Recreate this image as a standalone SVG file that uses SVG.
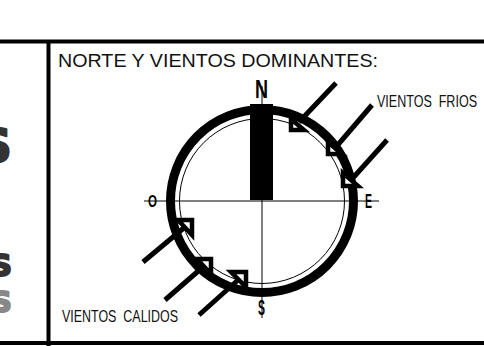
<svg xmlns="http://www.w3.org/2000/svg" width="484" height="346" viewBox="0 0 484 346">
<style>
.frame{stroke:#000;stroke-width:4;fill:none}
.thin{stroke:#000;stroke-width:1;fill:none}
.ring{stroke:#000;stroke-width:9;fill:none}
.shaft{stroke:#000;stroke-width:5;fill:none;stroke-linecap:butt}
.head{stroke:#000;stroke-width:4.5;fill:#fff;stroke-linejoin:miter}
.lbl{font-family:"Liberation Sans",Arial,sans-serif;fill:#111;white-space:pre}
.card{font-family:"Liberation Sans",Arial,sans-serif;font-weight:bold;fill:#000}
.cut{font-family:"DejaVu Sans",sans-serif;font-weight:bold;text-anchor:end;stroke-linejoin:round}
</style>
<rect width="484" height="346" fill="#fff"/>
<g id="frame">
<line class="frame" x1="0" y1="41.5" x2="484" y2="41.5"/>
<line class="frame" x1="48.5" y1="41.5" x2="48.5" y2="346"/>
<line class="frame" x1="0" y1="343" x2="484" y2="343"/>
</g>
<g id="cutoff-text">
<text class="cut" x="12" y="162" font-size="46" fill="#333" stroke="#333" stroke-width="2">S</text>
<text class="cut" x="12" y="276" font-size="31" fill="#333" stroke="#333" stroke-width="2">S</text>
<text class="cut" x="12" y="312" font-size="29" fill="#888" stroke="#888" stroke-width="2">S</text>
</g>
<g id="title"><text class="lbl" x="58" y="66.5" font-size="18" textLength="320" lengthAdjust="spacingAndGlyphs">NORTE Y VIENTOS DOMINANTES:</text></g>
<g id="compass">
<line class="thin" x1="144" y1="201" x2="379" y2="201"/>
<line class="thin" x1="262" y1="86" x2="262" y2="318"/>
<circle class="thin" cx="262" cy="201" r="82.5"/>
<circle class="ring" cx="262" cy="201" r="91.5"/>
<rect x="250" y="104" width="23" height="96" fill="#000"/>
<text class="card" x="255" y="98" font-size="25" textLength="13" lengthAdjust="spacingAndGlyphs">N</text>
<text class="card" x="365" y="208" font-size="20" textLength="7" lengthAdjust="spacingAndGlyphs">E</text>
<text class="card" x="148" y="206.5" font-size="17" textLength="9" lengthAdjust="spacingAndGlyphs">O</text>
<text class="card" x="258" y="315" font-size="22" textLength="7" lengthAdjust="spacingAndGlyphs">S</text>
</g>
<g id="connectors">
<line class="shaft" x1="336" y1="83" x2="299" y2="122"/>
<polygon class="head" points="291,130 304,130 291,119"/>
<line class="shaft" x1="372" y1="105" x2="336" y2="147"/>
<polygon class="head" points="328,154 342,154 328,142"/>
<line class="shaft" x1="387" y1="140" x2="352" y2="179"/>
<polygon class="head" points="343,186 358,186 343,173"/>
<line class="shaft" x1="143" y1="262" x2="185" y2="227"/>
<polygon class="head" points="192,220 178,220 192,235"/>
<line class="shaft" x1="165" y1="300" x2="204" y2="266"/>
<polygon class="head" points="211,259 197,259 211,274"/>
<line class="shaft" x1="199" y1="315" x2="238" y2="280"/>
<polygon class="head" points="246,272 231,272 246,287"/>
</g>
<g id="label-frios"><text class="lbl" x="377" y="106.5" font-size="17" textLength="100" lengthAdjust="spacingAndGlyphs">VIENTOS  FRIOS</text></g>
<g id="label-calidos"><text class="lbl" x="62" y="321.5" font-size="17" textLength="116" lengthAdjust="spacingAndGlyphs">VIENTOS  CALIDOS</text></g>
</svg>
